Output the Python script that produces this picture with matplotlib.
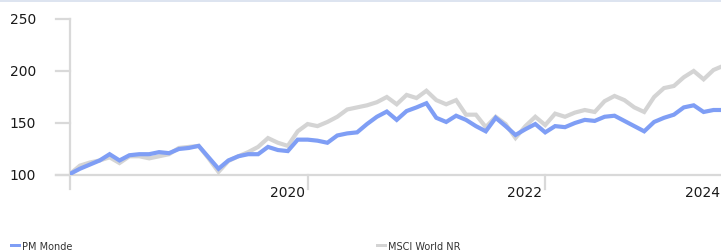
import matplotlib
matplotlib.use("Agg")
import matplotlib.pyplot as plt
from matplotlib.patches import Rectangle

# monthly index values, Jan 2018 onwards
pm_monde = [101, 106, 110, 114, 120, 114, 119, 120, 120, 122,
            121, 125, 126, 128, 117, 106, 114, 118, 120, 120,
            127, 124, 123, 134, 134, 133, 131, 138, 140, 141,
            149, 156, 161, 153, 161.5, 165, 169, 155, 151, 157,
            153, 147, 142, 155, 147, 138.5, 144, 149, 141, 147,
            146, 150, 153, 152, 156, 157, 152, 147, 142, 151,
            155, 158, 165, 167, 160.6, 162.5, 162.5]
msci_world = [101, 109, 112, 114, 117, 111.5, 118, 118, 116, 118,
              120, 126, 127, 128, 116, 103, 113.5, 118, 122, 127,
              135.5, 131, 128, 142, 149, 147, 151, 156, 163, 165,
              167, 170, 175, 168, 177, 174, 181, 172, 168, 172,
              158, 158, 146, 156, 149, 135.6, 147, 156, 148, 159,
              156, 160, 162.5, 160.6, 171, 176, 172, 165, 160.6, 175,
              183.6, 185.6, 194, 200, 192, 201, 205]
series_names = ["PM Monde", "MSCI World NR"]
y_ticks = [100, 150, 200, 250]
x_tick_pos = [24, 48]          # month index of Jan 2020, Jan 2022
x_tick_labels = ["2020", "2022"]

BLUE = "#7f9ef5"
GREY = "#d4d4d4"
AXIS = "#d9d9d9"
TXT = "#1a1a1a"

W, H = 721, 253
fig = plt.figure(figsize=(W / 100, H / 100), dpi=100)
fig.patch.set_facecolor("white")

# thin band across the top
fig.add_artist(Rectangle((0, 1 - 3 / H), 1, 3 / H, transform=fig.transFigure,
                         facecolor="#dde4f0", edgecolor="none"))

px = 9.9   # pixels per month
x0, x1 = 70, 721
ax = fig.add_axes([x0 / W, (H - 176) / H, (x1 - x0) / W, 156 / H])
ax.set_xlim(0, (x1 - x0) / px)
ax.set_ylim(100, 250)
ax.set_axis_off()

xs = list(range(len(pm_monde)))
ax.plot(xs, msci_world, color=GREY, lw=3.0, solid_joinstyle="miter", zorder=3)
ax.plot(xs, pm_monde, color=BLUE, lw=3.0, solid_joinstyle="miter", zorder=4)

# axis lines and ticks (drawn by hand, web-chart style)
tick = 14 / px
ax.plot([0, 0], [100 - 14 * 150 / 156, 250], color=AXIS, lw=1.6,
        clip_on=False, zorder=1)
ax.plot([-tick, 100], [100, 100], color=AXIS, lw=1.6, clip_on=False, zorder=1)
for v in y_ticks:
    ax.plot([-tick, 0], [v, v], color=AXIS, lw=1.6, clip_on=False, zorder=1)
    ax.text(-(70 - 36) / px, v, str(v), ha="right", va="center",
            fontsize=10, color=TXT, clip_on=False)

for pos, lab in zip(x_tick_pos, x_tick_labels):
    ax.plot([pos, pos], [100, 100 - 14 * 150 / 156], color=AXIS, lw=1.6,
            clip_on=False, zorder=1)
    ax.text(pos - 3 / px, 100 - 17 * 150 / 156, lab, ha="right", va="center",
            fontsize=10, color=TXT, clip_on=False)
# 2024 label pinned to the right edge
ax.text((720 - x0) / px, 100 - 17 * 150 / 156, "2024", ha="right",
        va="center", fontsize=10, color=TXT, clip_on=False)

# legend at the very bottom
for (lx, name, col) in [(10, series_names[0], BLUE), (376, series_names[1], GREY)]:
    fig.add_artist(Rectangle((lx / W, (H - 248) / H), 11 / W, 3.5 / H,
                             transform=fig.transFigure, facecolor=col,
                             edgecolor="none"))
    fig.text((lx + 12) / W, (H - 247.5) / H, name, ha="left", va="center",
             fontsize=7, color="#333333")

fig.savefig("out.png", dpi=100, facecolor="white")
